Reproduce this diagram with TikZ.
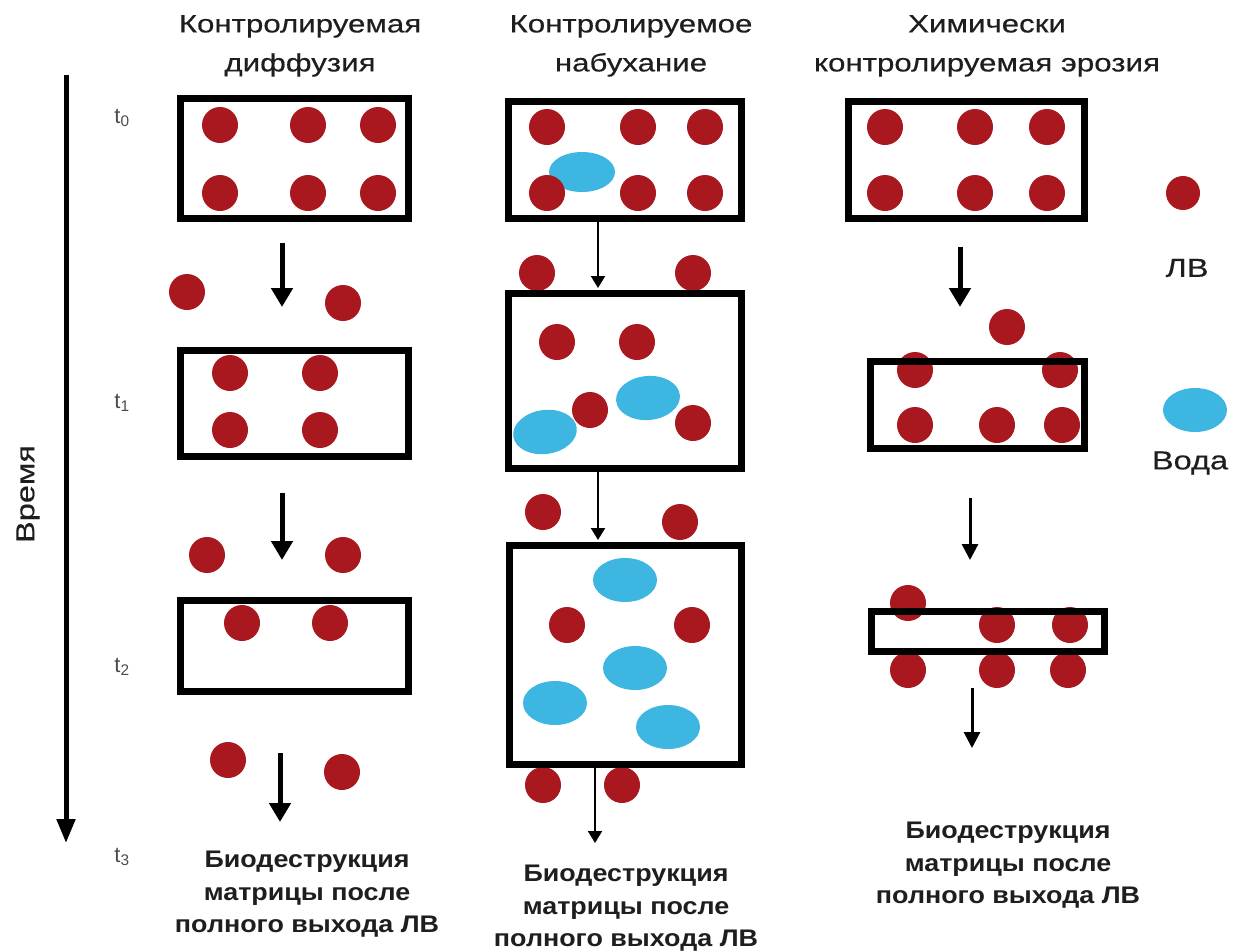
\documentclass[tikz,border=0pt]{standalone}
\usepackage{fontspec}
\setmainfont{Liberation Sans}
\newfontfamily\ttlfont[FakeStretch=1.25,FakeBold=0.4]{Liberation Sans}
\newfontfamily\btmfont[FakeStretch=1.12]{Liberation Sans}
\usetikzlibrary{arrows.meta,shapes.geometric}
\definecolor{drug}{RGB}{168,24,30}
\definecolor{wat}{RGB}{62,182,226}
\definecolor{ink}{RGB}{30,30,30}
\begin{document}
\begin{tikzpicture}[x=1pt,y=-1pt,
  dot/.style={circle,fill=drug,minimum size=36pt,inner sep=0pt},
  water/.style={ellipse,fill=wat,minimum width=64pt,minimum height=44pt,inner sep=0pt},
  mbox/.style={draw=black,line width=7pt,inner sep=0pt},
  thickarr/.style={line width=5pt,-{Triangle[width=21pt,length=19pt]}},
  midarr/.style={line width=3pt,-{Triangle[width=16pt,length=16pt]}},
  thinarr/.style={line width=2pt,-{Triangle[width=14pt,length=12pt]}},
  title/.style={font=\ttlfont\fontsize{25}{39}\selectfont,text=ink,align=center,anchor=north,inner sep=0pt},
  bottom/.style={font=\btmfont\bfseries\fontsize{24}{32.5}\selectfont,text=ink,align=center,anchor=north,inner sep=0pt},
  tlabel/.style={font=\fontsize{22}{24}\selectfont,text=ink!80,inner sep=0pt},
  legend/.style={font=\ttlfont\fontsize{26}{30}\selectfont,text=ink,inner sep=0pt}
]
\useasboundingbox (0,0) rectangle (1234,951);

% ---------- titles ----------
\node[title] (T1) at (300,15) {Контролируемая\\диффузия};
\node[title] (T2) at (631,15) {Контролируемое\\набухание};
\node[title] (T3) at (987,15) {Химически\\контролируемая эрозия};

% ---------- time axis ----------
\coordinate (tA) at (66,75);
\coordinate (tB) at (66,843);
\draw[line width=5pt,-{Triangle[width=18pt,length=24pt]}] (tA) -- (tB);
\node[legend,rotate=90] (time) at (28,494) {Время};
\node[tlabel] (t0) at (122,118) {t\textsubscript{0}};
\node[tlabel] (t1) at (122,403) {t\textsubscript{1}};
\node[tlabel] (t2) at (122,667) {t\textsubscript{2}};
\node[tlabel] (t3) at (122,857) {t\textsubscript{3}};

% ---------- column 1: diffusion ----------
\node[dot] (a1) at (220,125) {};
\node[dot] (a2) at (308,125) {};
\node[dot] (a3) at (378,125) {};
\node[dot] (a4) at (220,193) {};
\node[dot] (a5) at (308,193) {};
\node[dot] (a6) at (378,193) {};
\node[dot] (a7) at (187,292) {};
\node[dot] (a8) at (343,303) {};
\node[dot] (a9) at (230,373) {};
\node[dot] (a10) at (320,373) {};
\node[dot] (a11) at (230,430) {};
\node[dot] (a12) at (320,430) {};
\node[dot] (a13) at (207,555) {};
\node[dot] (a14) at (343,555) {};
\node[dot] (a15) at (242,623) {};
\node[dot] (a16) at (330,623) {};
\node[dot] (a17) at (228,760) {};
\node[dot] (a18) at (342,772) {};
\node[mbox,minimum width=228,minimum height=120] (d0) at (294.5,158.5) {};
\node[mbox,minimum width=228,minimum height=106] (d1) at (294.5,403.5) {};
\node[mbox,minimum width=228,minimum height=91] (d2) at (294.5,646) {};
\coordinate (da1) at (282,243); \coordinate (db1) at (282,307);
\coordinate (da2) at (282,493); \coordinate (db2) at (282,560);
\coordinate (da3) at (280,753); \coordinate (db3) at (280,822);
\draw[thickarr] (da1) -- (db1);
\draw[thickarr] (da2) -- (db2);
\draw[thickarr] (da3) -- (db3);
\node[bottom] (B1) at (307,851) {Биодеструкция\\матрицы после\\полного выхода ЛВ};

% ---------- column 2: swelling ----------
\node[water,minimum width=66,minimum height=40] (w1) at (582,172) {};
\node[water,rotate=8] (w2) at (545,432) {};
\node[water,rotate=5] (w3) at (648,398) {};
\node[water] (w4) at (625,580) {};
\node[water] (w5) at (635,668) {};
\node[water] (w6) at (555,703) {};
\node[water] (w7) at (668,727) {};
\node[dot] (b1) at (547,127) {};
\node[dot] (b2) at (638,127) {};
\node[dot] (b3) at (705,127) {};
\node[dot] (b4) at (547,193) {};
\node[dot] (b5) at (638,193) {};
\node[dot] (b6) at (705,193) {};
\node[dot] (b7) at (537,273) {};
\node[dot] (b8) at (693,273) {};
\node[dot] (b9) at (557,342) {};
\node[dot] (b10) at (637,342) {};
\node[dot] (b11) at (590,410) {};
\node[dot] (b12) at (693,423) {};
\node[dot] (b13) at (543,512) {};
\node[dot] (b14) at (680,522) {};
\node[dot] (b15) at (567,625) {};
\node[dot] (b16) at (692,625) {};
\node[dot] (b17) at (543,785) {};
\node[dot] (b18) at (622,785) {};
\node[mbox,minimum width=233,minimum height=117] (s0) at (625,160) {};
\node[mbox,minimum width=233,minimum height=175] (s1) at (625,381) {};
\node[mbox,minimum width=232,minimum height=219] (s2) at (625.5,655) {};
\coordinate (sa1) at (598,222); \coordinate (sb1) at (598,288);
\coordinate (sa2) at (598,472); \coordinate (sb2) at (598,540);
\coordinate (sa3) at (595,768); \coordinate (sb3) at (595,843);
\draw[thinarr] (sa1) -- (sb1);
\draw[thinarr] (sa2) -- (sb2);
\draw[thinarr] (sa3) -- (sb3);
\node[bottom] (B2) at (626,865) {Биодеструкция\\матрицы после\\полного выхода ЛВ};

% ---------- column 3: erosion ----------
\node[dot] (c1) at (885,127) {};
\node[dot] (c2) at (975,127) {};
\node[dot] (c3) at (1047,127) {};
\node[dot] (c4) at (885,193) {};
\node[dot] (c5) at (975,193) {};
\node[dot] (c6) at (1047,193) {};
\node[dot] (c7) at (1007,327) {};
\node[dot] (c8) at (915,370) {};
\node[dot] (c9) at (1060,370) {};
\node[dot] (c10) at (915,425) {};
\node[dot] (c11) at (997,425) {};
\node[dot] (c12) at (1062,425) {};
\node[dot] (c13) at (908,603) {};
\node[dot] (c14) at (997,625) {};
\node[dot] (c15) at (1070,625) {};
\node[dot] (c16) at (908,670) {};
\node[dot] (c17) at (997,670) {};
\node[dot] (c18) at (1068,670) {};
\node[mbox,minimum width=236,minimum height=117] (e0) at (966.5,160) {};
\node[mbox,minimum width=214,minimum height=87] (e1) at (977.5,405) {};
\node[mbox,minimum width=233,minimum height=40] (e2) at (988,631.5) {};
\coordinate (ea1) at (960,247); \coordinate (eb1) at (960,307);
\coordinate (ea2) at (970,498); \coordinate (eb2) at (970,560);
\coordinate (ea3) at (972,688); \coordinate (eb3) at (972,748);
\draw[thickarr] (ea1) -- (eb1);
\draw[midarr] (ea2) -- (eb2);
\draw[midarr] (ea3) -- (eb3);
\node[bottom] (B3) at (1008,822) {Биодеструкция\\матрицы после\\полного выхода ЛВ};

% ---------- legend ----------
\node[dot,minimum size=34] (Ld) at (1183,193) {};
\node[legend] (Lt) at (1187,268) {ЛВ};
\node[water] (Lw) at (1195,410) {};
\node[legend] (Lwt) at (1190,463) {Вода};
\end{tikzpicture}
\end{document}
